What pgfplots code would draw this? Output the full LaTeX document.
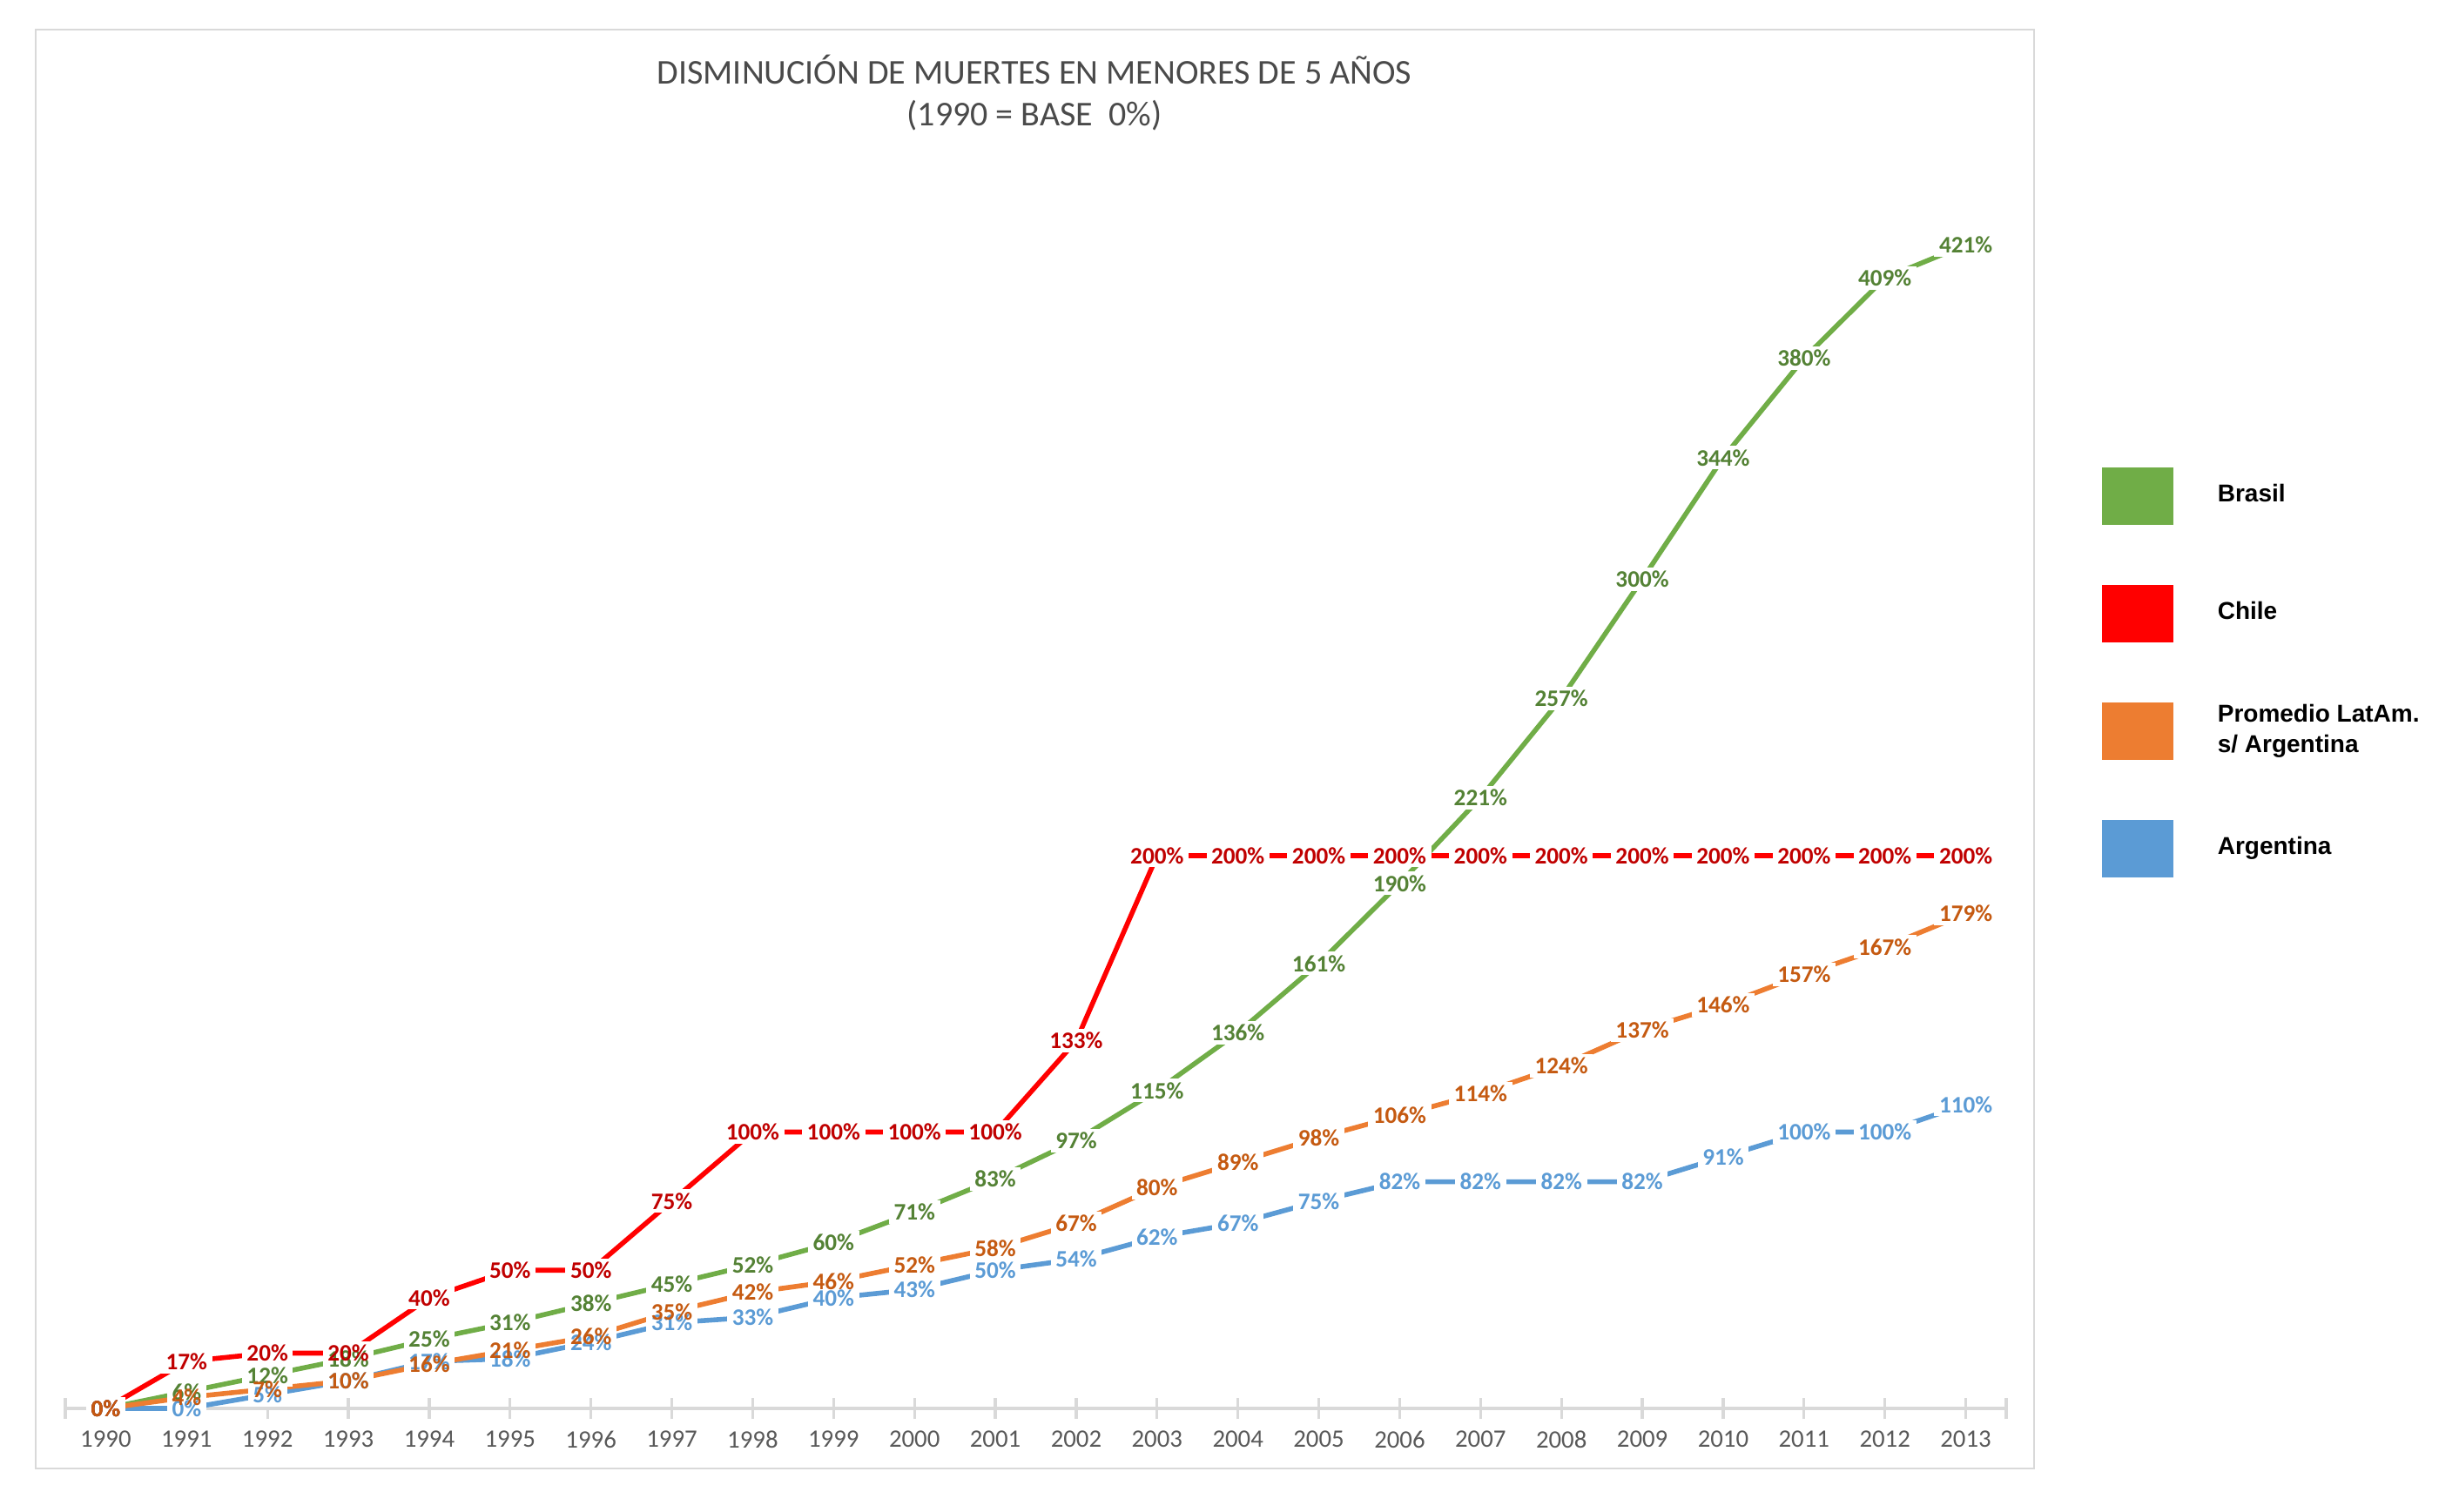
\documentclass[border=0pt]{standalone}
\usepackage{pgfplots}
\pgfplotsset{compat=1.18}
\usepackage{pgfplotstable}
\usepackage{fontspec}
\setmainfont{Carlito}
\newfontfamily\arialfont{Liberation Sans}
\definecolor{cBr}{HTML}{70AD47}\definecolor{cBrL}{HTML}{548235}
\definecolor{cCh}{HTML}{FF0000}\definecolor{cChL}{HTML}{C00000}
\definecolor{cPr}{HTML}{ED7D31}\definecolor{cPrL}{HTML}{C55A11}
\definecolor{cAr}{HTML}{5B9BD5}\definecolor{cArL}{HTML}{5B9BD5}
\definecolor{cGrid}{HTML}{D9D9D9}\definecolor{cTxt}{HTML}{595959}
\definecolor{cTitle}{HTML}{4A4A4A}
\pgfplotstableread{
year br ch pr ar
1990 0 0 0 0
1991 6 17 4 0
1992 12 20 7 5
1993 18 20 10 10
1994 25 40 16 17
1995 31 50 21 18
1996 38 50 26 24
1997 45 75 35 31
1998 52 100 42 33
1999 60 100 46 40
2000 71 100 52 43
2001 83 100 58 50
2002 97 133 67 54
2003 115 200 80 62
2004 136 200 89 67
2005 161 200 98 75
2006 190 200 106 82
2007 221 200 114 82
2008 257 200 124 82
2009 300 200 137 82
2010 344 200 146 91
2011 380 200 157 100
2012 409 200 167 100
2013 421 200 179 110
}\datatable
\pgfplotsset{
  labfill/.style={no marks, forget plot, point meta=y, line width=1.4pt,
    nodes near coords={\phantom{\pgfmathprintnumber[fixed,precision=0]{\pgfplotspointmeta}\%}},
    nodes near coords style={font=\bfseries\fontsize{6.8}{7.5}\selectfont, fill=white, inner xsep=1.4pt, inner ysep=1pt, anchor=center}},
  labtext/.style={no marks, forget plot, point meta=y, draw=none,
    nodes near coords={\pgfmathprintnumber[fixed,precision=0]{\pgfplotspointmeta}\%},
    nodes near coords style={font=\bfseries\fontsize{6.8}{7.5}\selectfont, text=#1, inner xsep=1.4pt, inner ysep=1pt, anchor=center}},
}
\begin{document}
\begin{tikzpicture}
\useasboundingbox (0pt,0pt) rectangle (706pt,434pt);
\draw[cGrid, line width=0.6pt] (10.25pt,12.25pt) rectangle (584pt,425.5pt);
\node[font=\fontsize{10}{12}\selectfont, text=cTitle, align=center] at (297pt,407.25pt)
  {DISMINUCIÓN DE MUERTES EN MENORES DE 5 AÑOS\\(1990 = BASE\ \ 0\%)};
\begin{axis}[
  at={(18.75pt,29.5pt)}, anchor=south west,
  scale only axis, width=557.25pt, height=357.19pt,
  xmin=1989.5, xmax=2013.5, ymin=0, ymax=450,
  axis x line=bottom, axis y line=none,
  x axis line style={-, draw=cGrid, line width=1.1pt},
  xtick={1990,1991,...,2013}, minor x tick num=1,
  extra x ticks={1989.5,2013.5}, extra x tick labels={},
  tick align=center, major tick length=6pt, minor tick length=6pt,
  tick style={draw=cGrid, line width=0.8pt},
  /pgf/number format/assume math mode=true,
  xticklabel style={font=\fontsize{7.2}{8}\selectfont, text=cTxt, /pgf/number format/set thousands separator={}},
  clip=false,
  legend style={at={(axis description cs:1.0489,0.7573)}, anchor=north west, draw=none, fill=none, inner sep=0pt,
    row sep=17.25pt, font=\arialfont\bfseries\fontsize{7}{8.75}\selectfont,
    nodes={align=left, inner sep=0pt}},
  legend cell align=left,
  legend image code/.code={\fill[#1] (0pt,-8.25pt) rectangle (20.5pt,8.25pt); \path (33.25pt,0pt);},
]
\addlegendimage{fill=cBr, draw=none}
\addlegendentry{Brasil}
\addlegendimage{fill=cCh, draw=none}
\addlegendentry{Chile}
\addlegendimage{fill=cPr, draw=none}
\addlegendentry{Promedio LatAm.\\s/ Argentina}
\addlegendimage{fill=cAr, draw=none}
\addlegendentry{Argentina}
% lines with gaps around the labels
\addplot[cAr, labfill] table[x=year, y=ar] {\datatable};
\addplot[cBr, labfill] table[x=year, y=br] {\datatable};
\addplot[cCh, labfill] table[x=year, y=ch] {\datatable};
\addplot[cPr, labfill] table[x=year, y=pr] {\datatable};
% label texts
\addplot[labtext=cArL] table[x=year, y=ar] {\datatable};
\addplot[labtext=cBrL] table[x=year, y=br] {\datatable};
\addplot[labtext=cChL] table[x=year, y=ch] {\datatable};
\addplot[labtext=cPrL] table[x=year, y=pr] {\datatable};
\end{axis}
\end{tikzpicture}
\end{document}
